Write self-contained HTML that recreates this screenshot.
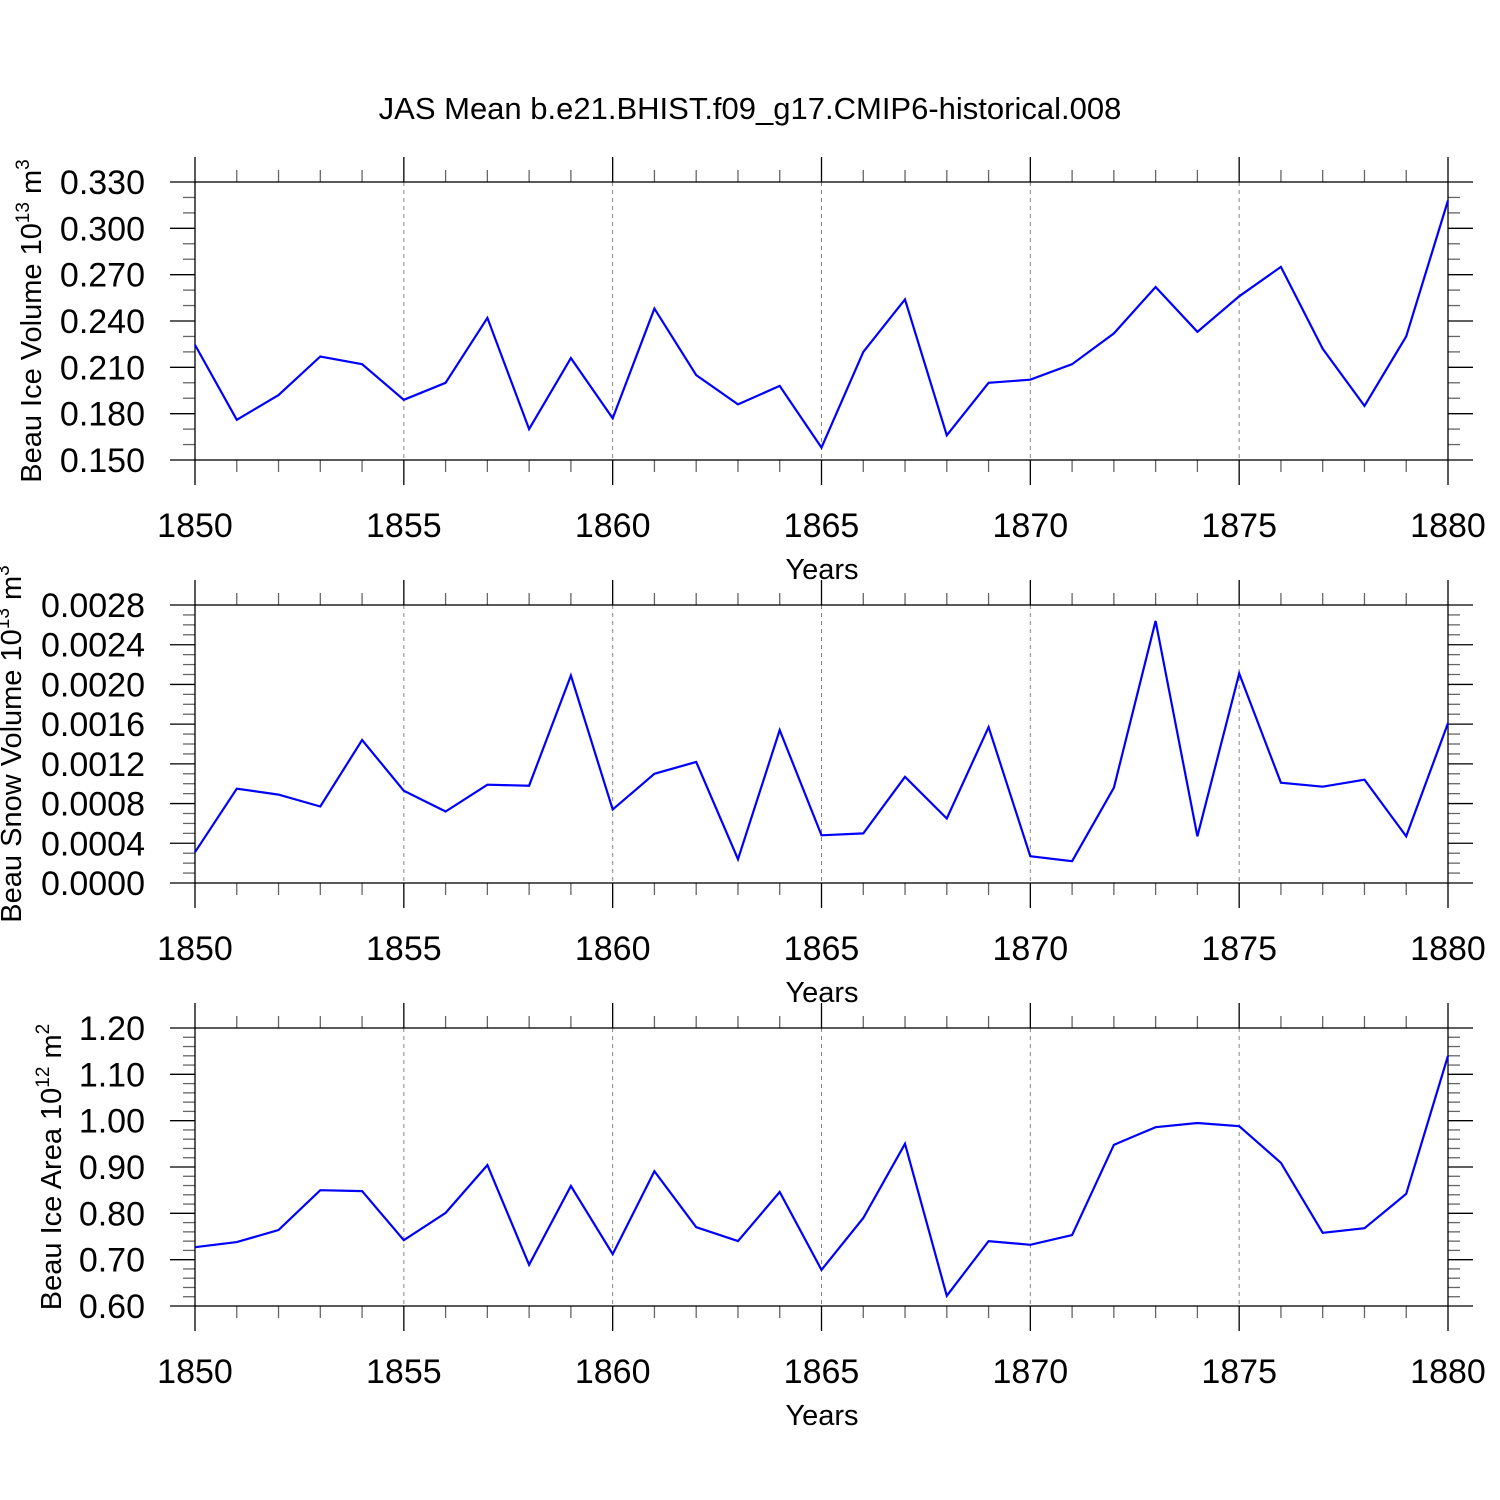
<!DOCTYPE html>
<html><head><meta charset="utf-8"><style>
body{margin:0;background:#fff}
svg{display:block;font-family:"Liberation Sans",sans-serif}
</style></head><body>
<svg id="chart" width="1500" height="1500" viewBox="0 0 1500 1500">
<text x="750" y="119" font-size="31" text-anchor="middle">JAS Mean b.e21.BHIST.f09_g17.CMIP6-historical.008</text>
<g id="root"></g>
</svg>
<script>
const years = [];
for (let y = 1850; y <= 1880; y++) years.push(y);
const xTickLabels = [1850, 1855, 1860, 1865, 1870, 1875, 1880];
const iceVolume = [0.2245,0.176,0.192,0.217,0.212,0.189,0.200,0.242,0.170,0.216,0.177,0.248,0.205,0.186,0.198,0.158,0.220,0.254,0.166,0.200,0.202,0.212,0.232,0.262,0.233,0.256,0.275,0.222,0.185,0.230,0.318];
const snowVolume = [0.00031,0.00095,0.00089,0.00077,0.00144,0.00093,0.00072,0.00099,0.00098,0.00209,0.00074,0.00110,0.00122,0.00024,0.00154,0.00048,0.00050,0.00107,0.00065,0.00157,0.00027,0.00022,0.00096,0.00264,0.00047,0.00211,0.00101,0.00097,0.00104,0.00047,0.00161];
const iceArea = [0.727,0.738,0.764,0.850,0.848,0.742,0.801,0.904,0.689,0.859,0.712,0.891,0.770,0.740,0.846,0.678,0.790,0.950,0.622,0.740,0.732,0.753,0.948,0.986,0.995,0.988,0.909,0.758,0.768,0.842,1.140];
const iceVolTicks = ["0.150","0.180","0.210","0.240","0.270","0.300","0.330"];
const snowTicks = ["0.0000","0.0004","0.0008","0.0012","0.0016","0.0020","0.0024","0.0028"];
const areaTicks = ["0.60","0.70","0.80","0.90","1.00","1.10","1.20"];

const NS = "http://www.w3.org/2000/svg";
const root = document.getElementById('root');
const X0 = 195, X1 = 1448;
function xs(v){ return X0 + (v - 1850) / 30 * (X1 - X0); }
function mk(tag, attrs, parent){ const e = document.createElementNS(NS, tag); for (const k in attrs) e.setAttribute(k, attrs[k]); (parent||root).appendChild(e); return e; }

const panels = [
  {name:'ice-volume', top:182, bot:460, min:0.15, max:0.33, ticks:iceVolTicks, minor:0.01, data:iceVolume, title:'Beau Ice Volume 10', sup:'13', unit:' m', usup:'3', tx:41},
  {name:'snow-volume', top:605, bot:883, min:0, max:0.0028, ticks:snowTicks, minor:0.0001, data:snowVolume, title:'Beau Snow Volume 10', sup:'13', unit:' m', usup:'3', tx:21},
  {name:'ice-area', top:1028, bot:1306, min:0.6, max:1.2, ticks:areaTicks, minor:0.02, data:iceArea, title:'Beau Ice Area 10', sup:'12', unit:' m', usup:'2', tx:61}
];

panels.forEach(p => {
  const g = mk('g', {});
  
  
  const ys = v => p.bot - (v - p.min) / (p.max - p.min) * (p.bot - p.top);
  xTickLabels.slice(1, -1).forEach(t => {
    const l = mk('line', {x1:xs(t), x2:xs(t), y1:p.top, y2:p.bot, stroke:'#888', 'stroke-width':1, 'stroke-dasharray':'4,4'}, g);
    
    
  });
  years.forEach(yv => {
    const major = xTickLabels.includes(yv);
    const len = major ? 25 : 12;
    const c = major ? '#000' : '#666';
    mk('line', {x1:xs(yv), x2:xs(yv), y1:p.top, y2:p.top - len, stroke:c, 'stroke-width':1.3}, g);
    mk('line', {x1:xs(yv), x2:xs(yv), y1:p.bot, y2:p.bot + len, stroke:c, 'stroke-width':1.3}, g);
  });
  xTickLabels.forEach(t => {
    const tx = mk('text', {x:xs(t), y:p.bot + 77, 'font-size':34, 'text-anchor':'middle'}, g);
    tx.textContent = t;
    
    
  });
  const nMinor = Math.round((p.max - p.min) / p.minor);
  const step = (p.ticks.length - 1);
  const per = nMinor / step;
  for (let i = 0; i <= nMinor; i++) {
    const v = p.min + i * p.minor;
    const major = i % per === 0;
    const len = major ? 25 : 12;
    const c = major ? '#000' : '#666';
    mk('line', {x1:X0, x2:X0 - len, y1:ys(v), y2:ys(v), stroke:c, 'stroke-width':1.3}, g);
    mk('line', {x1:X1, x2:X1 + len, y1:ys(v), y2:ys(v), stroke:c, 'stroke-width':1.3}, g);
  }
  p.ticks.forEach(t => {
    const tx = mk('text', {x:145, y:ys(parseFloat(t)) + 12, 'font-size':34, 'text-anchor':'end'}, g);
    tx.textContent = t;
    
    
  });
  const fr = mk('rect', {x:X0, y:p.top, width:X1 - X0, height:p.bot - p.top, fill:'none', stroke:'#000', 'stroke-width':1.3}, g);
  
  
  const pts = p.data.map((v, i) => xs(years[i]).toFixed(1) + ',' + ys(v).toFixed(1)).join(' ');
  const pl = mk('polyline', {points:pts, fill:'none', stroke:'#0000ff', 'stroke-width':2.2}, g);
  
  
  const xt = mk('text', {x:822, y:p.bot + 119, 'font-size':29, 'text-anchor':'middle'}, g);
  xt.textContent = 'Years';
  
  
  const cy = (p.top + p.bot) / 2;
  const yt = mk('text', {x:p.tx, y:cy, 'font-size':29, 'text-anchor':'middle', transform:`rotate(-90 ${p.tx} ${cy})`}, g);
  
  
  const s1 = mk('tspan', {}, yt); s1.textContent = p.title;
  const s2 = mk('tspan', {dy:-12, 'font-size':19}, yt); s2.textContent = p.sup;
  const s3 = mk('tspan', {dy:12}, yt); s3.textContent = p.unit;
  const s4 = mk('tspan', {dy:-12, 'font-size':19}, yt); s4.textContent = p.usup;
});
</script>
</body></html>
